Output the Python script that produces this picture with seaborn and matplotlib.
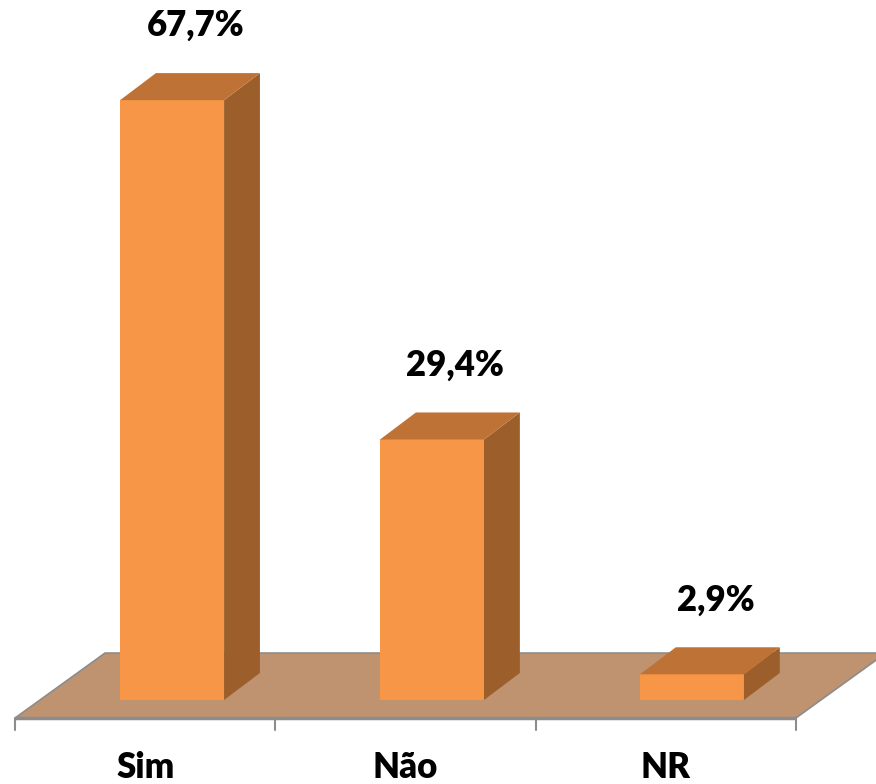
import numpy as np
import pandas as pd
import seaborn as sns
import matplotlib
matplotlib.use("Agg")
import matplotlib.pyplot as plt
from matplotlib.patches import Polygon

# Data
categories = ['Sim', 'Não', 'NR']
values = [67.7, 29.4, 2.9]
value_labels = ['67,7%', '29,4%', '2,9%']

sns.set_style("white")
plt.rcParams['font.family'] = ['Lato', 'DejaVu Sans']

front_col = '#F79646'
top_col = '#BE7235'
side_col = '#9C5F2B'
floor_col = '#BF9270'
edge_gray = '#8C8C8C'

fig = plt.figure(figsize=(8.76, 7.84), dpi=100)
ax = fig.add_axes([0, 0, 1, 1])

df = pd.DataFrame({'cat': categories, 'val': values})
sns.barplot(data=df, x='cat', y='val', color=front_col, saturation=1.0,
            width=0.4, ax=ax, zorder=3, linewidth=0)

# pixel-like scaling: 260 px per category, 8.86 px per percent
ax.set_xlim(-0.662, 2.708)
ax.set_ylim(-9.48, 79.0)
ax.set_axis_off()

# 3D depth offsets (data units)
dx, dy = 0.138, 3.05

# floor parallelogram
fy0, fy1 = -2.03, 5.30
fx0, fx1 = -0.604, 2.40
fdx = 0.346
floor = Polygon([(fx0, fy0), (fx1, fy0), (fx1 + fdx, fy1), (fx0 + fdx, fy1)],
                closed=True, facecolor=floor_col, edgecolor=edge_gray, linewidth=1.2, zorder=1)
ax.add_patch(floor)
ax.plot([fx0, fx1], [fy0, fy0], color=edge_gray, linewidth=2.5, zorder=2, solid_capstyle='butt')

# ticks between categories
for i in range(len(categories) + 1):
    xt = fx0 + i * (fx1 - fx0) / len(categories)
    ax.plot([xt, xt], [fy0, fy0 - 1.4], color=edge_gray, linewidth=1.5, zorder=2)

# side and top faces of each bar
for bar, lab in zip(ax.patches, value_labels):
    x0 = bar.get_x()
    w = bar.get_width()
    h = bar.get_height()
    x1 = x0 + w
    side = Polygon([(x1, 0), (x1 + dx, dy), (x1 + dx, h + dy), (x1, h)],
                   closed=True, facecolor=side_col, edgecolor='none', zorder=3)
    top = Polygon([(x0, h), (x1, h), (x1 + dx, h + dy), (x0 + dx, h + dy)],
                  closed=True, facecolor=top_col, edgecolor='none', zorder=3)
    ax.add_patch(side)
    ax.add_patch(top)
    ax.text(x0 + w / 2 + 0.09, h + dy + 5.35, lab, ha='center', va='center',
            fontsize=25, fontweight='heavy', color='black')

# category labels centred in their tick intervals
step = (fx1 - fx0) / len(categories)
for i, c in enumerate(categories):
    ax.text(fx0 + step * (i + 0.5), -7.6, c, ha='center', va='center',
            fontsize=25, fontweight='heavy', color='black')

plt.savefig('out.png', dpi=100)
plt.close()
